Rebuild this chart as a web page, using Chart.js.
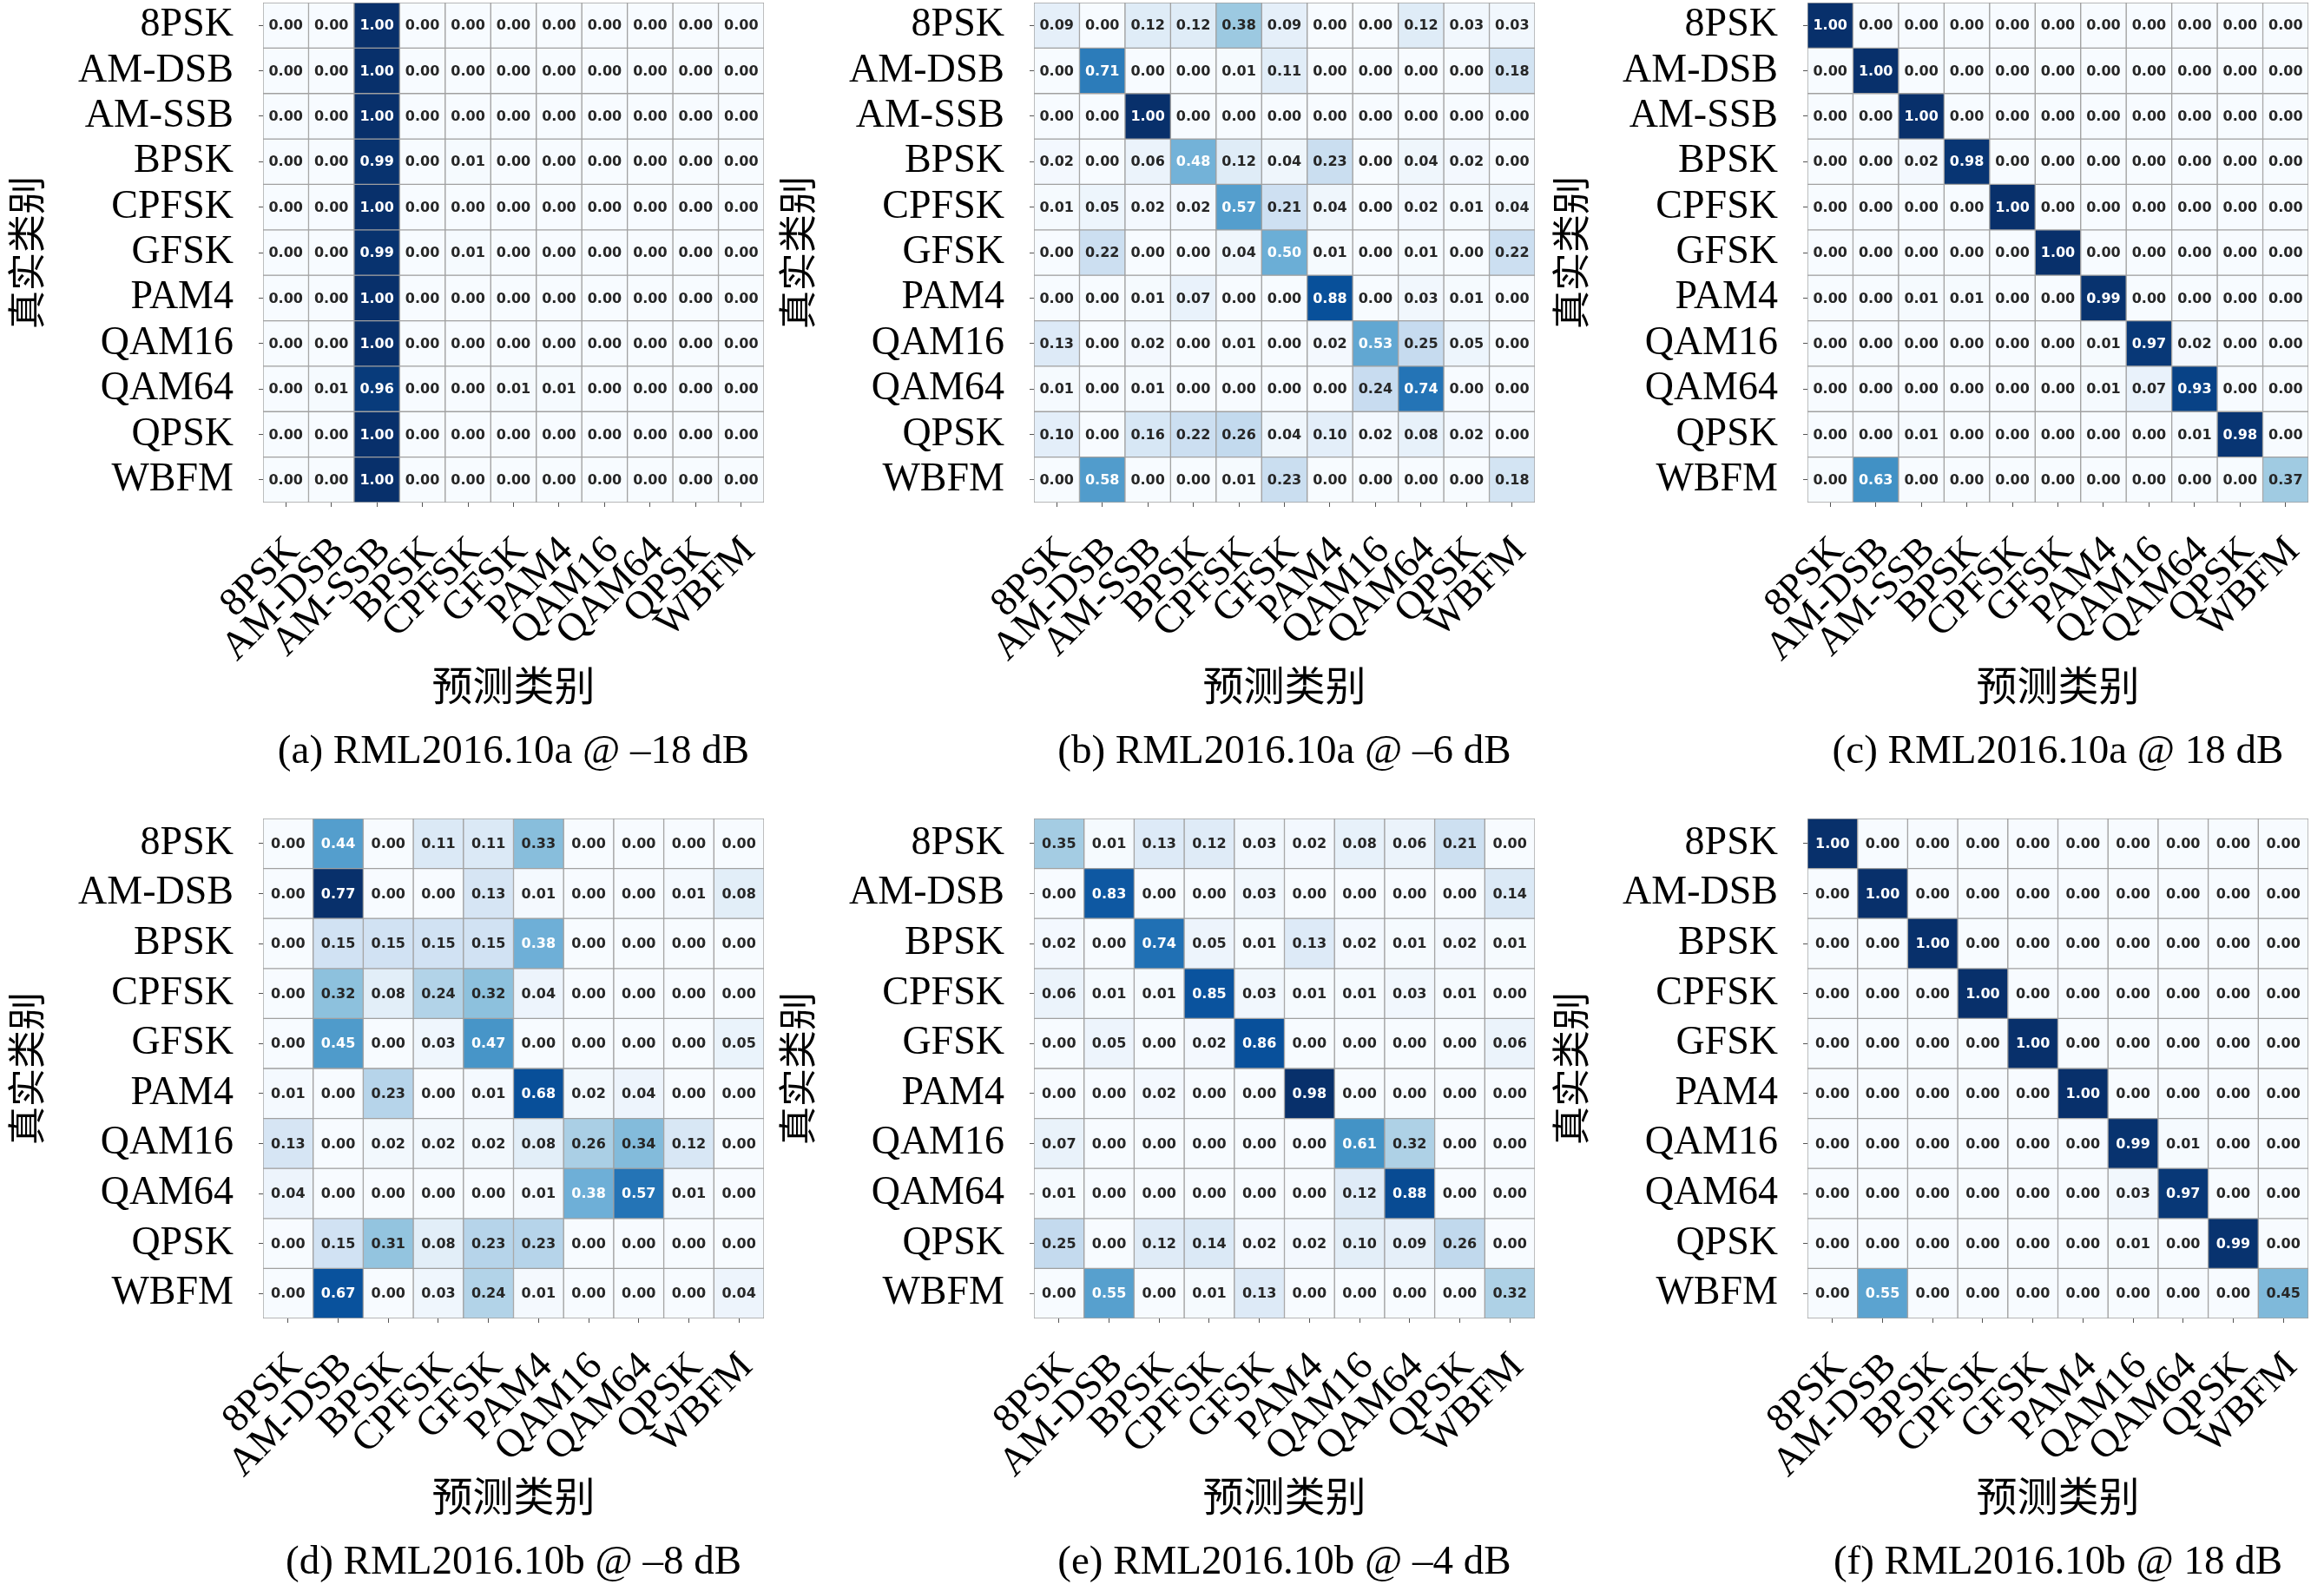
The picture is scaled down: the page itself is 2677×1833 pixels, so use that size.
<!DOCTYPE html>
<html>
<head>
<meta charset="utf-8">
<script src="https://cdn.jsdelivr.net/npm/chart.js@4.4.1/dist/chart.umd.min.js"></script>
<style>
  html, body { margin: 0; padding: 0; background: #fff; width: 2677px; height: 1833px; overflow: hidden; }
  canvas { position: absolute; }
</style>
</head>
<body>
<canvas id="cmA" width="885" height="913" style="left:0px;top:0px"></canvas>
<canvas id="cmB" width="885" height="913" style="left:888px;top:0px"></canvas>
<canvas id="cmC" width="885" height="913" style="left:1779px;top:0px"></canvas>
<canvas id="cmD" width="885" height="913" style="left:0px;top:940px"></canvas>
<canvas id="cmE" width="885" height="913" style="left:888px;top:940px"></canvas>
<canvas id="cmF" width="885" height="913" style="left:1779px;top:940px"></canvas>
<script>
// class lists
const classes10a = ["8PSK", "AM-DSB", "AM-SSB", "BPSK", "CPFSK", "GFSK", "PAM4", "QAM16", "QAM64", "QPSK", "WBFM"];
const classes10b = ["8PSK", "AM-DSB", "BPSK", "CPFSK", "GFSK", "PAM4", "QAM16", "QAM64", "QPSK", "WBFM"];

// (a) RML2016.10a @ -18 dB
const cmA = [
  [0.00, 0.00, 1.00, 0.00, 0.00, 0.00, 0.00, 0.00, 0.00, 0.00, 0.00],
  [0.00, 0.00, 1.00, 0.00, 0.00, 0.00, 0.00, 0.00, 0.00, 0.00, 0.00],
  [0.00, 0.00, 1.00, 0.00, 0.00, 0.00, 0.00, 0.00, 0.00, 0.00, 0.00],
  [0.00, 0.00, 0.99, 0.00, 0.01, 0.00, 0.00, 0.00, 0.00, 0.00, 0.00],
  [0.00, 0.00, 1.00, 0.00, 0.00, 0.00, 0.00, 0.00, 0.00, 0.00, 0.00],
  [0.00, 0.00, 0.99, 0.00, 0.01, 0.00, 0.00, 0.00, 0.00, 0.00, 0.00],
  [0.00, 0.00, 1.00, 0.00, 0.00, 0.00, 0.00, 0.00, 0.00, 0.00, 0.00],
  [0.00, 0.00, 1.00, 0.00, 0.00, 0.00, 0.00, 0.00, 0.00, 0.00, 0.00],
  [0.00, 0.01, 0.96, 0.00, 0.00, 0.01, 0.01, 0.00, 0.00, 0.00, 0.00],
  [0.00, 0.00, 1.00, 0.00, 0.00, 0.00, 0.00, 0.00, 0.00, 0.00, 0.00],
  [0.00, 0.00, 1.00, 0.00, 0.00, 0.00, 0.00, 0.00, 0.00, 0.00, 0.00]
];

// (b) RML2016.10a @ -6 dB
const cmB = [
  [0.09, 0.00, 0.12, 0.12, 0.38, 0.09, 0.00, 0.00, 0.12, 0.03, 0.03],
  [0.00, 0.71, 0.00, 0.00, 0.01, 0.11, 0.00, 0.00, 0.00, 0.00, 0.18],
  [0.00, 0.00, 1.00, 0.00, 0.00, 0.00, 0.00, 0.00, 0.00, 0.00, 0.00],
  [0.02, 0.00, 0.06, 0.48, 0.12, 0.04, 0.23, 0.00, 0.04, 0.02, 0.00],
  [0.01, 0.05, 0.02, 0.02, 0.57, 0.21, 0.04, 0.00, 0.02, 0.01, 0.04],
  [0.00, 0.22, 0.00, 0.00, 0.04, 0.50, 0.01, 0.00, 0.01, 0.00, 0.22],
  [0.00, 0.00, 0.01, 0.07, 0.00, 0.00, 0.88, 0.00, 0.03, 0.01, 0.00],
  [0.13, 0.00, 0.02, 0.00, 0.01, 0.00, 0.02, 0.53, 0.25, 0.05, 0.00],
  [0.01, 0.00, 0.01, 0.00, 0.00, 0.00, 0.00, 0.24, 0.74, 0.00, 0.00],
  [0.10, 0.00, 0.16, 0.22, 0.26, 0.04, 0.10, 0.02, 0.08, 0.02, 0.00],
  [0.00, 0.58, 0.00, 0.00, 0.01, 0.23, 0.00, 0.00, 0.00, 0.00, 0.18]
];

// (c) RML2016.10a @ 18 dB
const cmC = [
  [1.00, 0.00, 0.00, 0.00, 0.00, 0.00, 0.00, 0.00, 0.00, 0.00, 0.00],
  [0.00, 1.00, 0.00, 0.00, 0.00, 0.00, 0.00, 0.00, 0.00, 0.00, 0.00],
  [0.00, 0.00, 1.00, 0.00, 0.00, 0.00, 0.00, 0.00, 0.00, 0.00, 0.00],
  [0.00, 0.00, 0.02, 0.98, 0.00, 0.00, 0.00, 0.00, 0.00, 0.00, 0.00],
  [0.00, 0.00, 0.00, 0.00, 1.00, 0.00, 0.00, 0.00, 0.00, 0.00, 0.00],
  [0.00, 0.00, 0.00, 0.00, 0.00, 1.00, 0.00, 0.00, 0.00, 0.00, 0.00],
  [0.00, 0.00, 0.01, 0.01, 0.00, 0.00, 0.99, 0.00, 0.00, 0.00, 0.00],
  [0.00, 0.00, 0.00, 0.00, 0.00, 0.00, 0.01, 0.97, 0.02, 0.00, 0.00],
  [0.00, 0.00, 0.00, 0.00, 0.00, 0.00, 0.01, 0.07, 0.93, 0.00, 0.00],
  [0.00, 0.00, 0.01, 0.00, 0.00, 0.00, 0.00, 0.00, 0.01, 0.98, 0.00],
  [0.00, 0.63, 0.00, 0.00, 0.00, 0.00, 0.00, 0.00, 0.00, 0.00, 0.37]
];

// (d) RML2016.10b @ -8 dB
const cmD = [
  [0.00, 0.44, 0.00, 0.11, 0.11, 0.33, 0.00, 0.00, 0.00, 0.00],
  [0.00, 0.77, 0.00, 0.00, 0.13, 0.01, 0.00, 0.00, 0.01, 0.08],
  [0.00, 0.15, 0.15, 0.15, 0.15, 0.38, 0.00, 0.00, 0.00, 0.00],
  [0.00, 0.32, 0.08, 0.24, 0.32, 0.04, 0.00, 0.00, 0.00, 0.00],
  [0.00, 0.45, 0.00, 0.03, 0.47, 0.00, 0.00, 0.00, 0.00, 0.05],
  [0.01, 0.00, 0.23, 0.00, 0.01, 0.68, 0.02, 0.04, 0.00, 0.00],
  [0.13, 0.00, 0.02, 0.02, 0.02, 0.08, 0.26, 0.34, 0.12, 0.00],
  [0.04, 0.00, 0.00, 0.00, 0.00, 0.01, 0.38, 0.57, 0.01, 0.00],
  [0.00, 0.15, 0.31, 0.08, 0.23, 0.23, 0.00, 0.00, 0.00, 0.00],
  [0.00, 0.67, 0.00, 0.03, 0.24, 0.01, 0.00, 0.00, 0.00, 0.04]
];

// (e) RML2016.10b @ -4 dB
const cmE = [
  [0.35, 0.01, 0.13, 0.12, 0.03, 0.02, 0.08, 0.06, 0.21, 0.00],
  [0.00, 0.83, 0.00, 0.00, 0.03, 0.00, 0.00, 0.00, 0.00, 0.14],
  [0.02, 0.00, 0.74, 0.05, 0.01, 0.13, 0.02, 0.01, 0.02, 0.01],
  [0.06, 0.01, 0.01, 0.85, 0.03, 0.01, 0.01, 0.03, 0.01, 0.00],
  [0.00, 0.05, 0.00, 0.02, 0.86, 0.00, 0.00, 0.00, 0.00, 0.06],
  [0.00, 0.00, 0.02, 0.00, 0.00, 0.98, 0.00, 0.00, 0.00, 0.00],
  [0.07, 0.00, 0.00, 0.00, 0.00, 0.00, 0.61, 0.32, 0.00, 0.00],
  [0.01, 0.00, 0.00, 0.00, 0.00, 0.00, 0.12, 0.88, 0.00, 0.00],
  [0.25, 0.00, 0.12, 0.14, 0.02, 0.02, 0.10, 0.09, 0.26, 0.00],
  [0.00, 0.55, 0.00, 0.01, 0.13, 0.00, 0.00, 0.00, 0.00, 0.32]
];

// (f) RML2016.10b @ 18 dB
const cmF = [
  [1.00, 0.00, 0.00, 0.00, 0.00, 0.00, 0.00, 0.00, 0.00, 0.00],
  [0.00, 1.00, 0.00, 0.00, 0.00, 0.00, 0.00, 0.00, 0.00, 0.00],
  [0.00, 0.00, 1.00, 0.00, 0.00, 0.00, 0.00, 0.00, 0.00, 0.00],
  [0.00, 0.00, 0.00, 1.00, 0.00, 0.00, 0.00, 0.00, 0.00, 0.00],
  [0.00, 0.00, 0.00, 0.00, 1.00, 0.00, 0.00, 0.00, 0.00, 0.00],
  [0.00, 0.00, 0.00, 0.00, 0.00, 1.00, 0.00, 0.00, 0.00, 0.00],
  [0.00, 0.00, 0.00, 0.00, 0.00, 0.00, 0.99, 0.01, 0.00, 0.00],
  [0.00, 0.00, 0.00, 0.00, 0.00, 0.00, 0.03, 0.97, 0.00, 0.00],
  [0.00, 0.00, 0.00, 0.00, 0.00, 0.00, 0.01, 0.00, 0.99, 0.00],
  [0.00, 0.55, 0.00, 0.00, 0.00, 0.00, 0.00, 0.00, 0.00, 0.45]
];

const captions = [
  "(a) RML2016.10a @ \u201318 dB",
  "(b) RML2016.10a @ \u20136 dB",
  "(c) RML2016.10a @ 18 dB",
  "(d) RML2016.10b @ \u20138 dB",
  "(e) RML2016.10b @ \u20134 dB",
  "(f) RML2016.10b @ 18 dB"
];
const xTitle = "预测类别";
const yTitle = "真实类别";

// matplotlib "Blues"
const bluesStops = ["#f7fbff", "#deebf7", "#c6dbef", "#9ecae1", "#6baed6", "#4292c6", "#2171b5", "#08519c", "#08306b"];

function hexToRgb(h) {
  return [parseInt(h.slice(1, 3), 16), parseInt(h.slice(3, 5), 16), parseInt(h.slice(5, 7), 16)];
}

function blues(t) {
  t = Math.max(0, Math.min(1, t));
  const pos = t * (bluesStops.length - 1);
  const i = Math.min(Math.floor(pos), bluesStops.length - 2);
  const f = pos - i;
  const a = hexToRgb(bluesStops[i]), b = hexToRgb(bluesStops[i + 1]);
  return a.map((v, k) => Math.round(v + (b[k] - v) * f));
}

function luminance(rgb) {
  const c = rgb.map(v => {
    v = v / 255;
    return v <= 0.03928 ? v / 12.92 : Math.pow((v + 0.055) / 1.055, 2.4);
  });
  return 0.2126 * c[0] + 0.7152 * c[1] + 0.0722 * c[2];
}

const serif = "'Liberation Serif', 'Noto Sans CJK SC', serif";

// writes the value in each cell, on top of the bars
const cellLabels = {
  id: "cellLabels",
  afterDatasetsDraw(chart) {
    const ctx = chart.ctx;
    ctx.save();
    ctx.font = "bold 16px 'DejaVu Sans'";
    ctx.textAlign = "center";
    ctx.textBaseline = "middle";
    chart.data.datasets.forEach((ds, r) => {
      chart.getDatasetMeta(r).data.forEach((bar, c) => {
        const p = bar.getCenterPoint();
        ctx.fillStyle = ds.textColors[c];
        ctx.fillText(ds.values[c].toFixed(2), p.x, p.y + 1);
      });
    });
    ctx.restore();
  }
};

function noPadding(scale) {
  scale.paddingLeft = 0;
  scale.paddingRight = 0;
  scale.paddingTop = 0;
  scale.paddingBottom = 0;
}

function drawMatrix(id, classes, values, caption, captionPad) {
  const vmax = Math.max(...values.flat());
  const vmin = Math.min(...values.flat());
  const datasets = values.map((row, r) => {
    const rgbs = row.map(v => blues((v - vmin) / (vmax - vmin)));
    return {
      label: classes[r],
      data: row.map(() => 1),
      values: row,
      backgroundColor: rgbs.map(c => "rgb(" + c.join(",") + ")"),
      textColors: rgbs.map(c => luminance(c) > 0.408 ? "#262626" : "#ffffff"),
      borderColor: "#a0a0a0",
      borderWidth: 1,
      borderSkipped: false,
      barPercentage: 1,
      categoryPercentage: 1,
      yAxisID: "y"
    };
  });

  new Chart(document.getElementById(id), {
    type: "bar",
    data: { labels: classes, datasets: datasets },
    options: {
      responsive: false,
      animation: false,
      devicePixelRatio: 1,
      layout: { padding: { top: 3, right: 5, left: 0, bottom: 0 } },
      plugins: { legend: { display: false }, tooltip: { enabled: false } },
      scales: {
        x: {
          stacked: true,
          offset: true,
          border: { display: false },
          grid: { offset: false, drawOnChartArea: false, tickLength: 5, color: "#555" },
          ticks: {
            autoSkip: false, minRotation: 45, maxRotation: 45, padding: 24, labelOffset: 9,
            color: "#000", font: { family: serif, size: 46 }
          },
          title: {
            display: true,
            text: [xTitle, caption],
            color: "#000",
            font: { family: serif, size: 47, lineHeight: 72 / 47 },
            padding: { top: 0, bottom: captionPad }
          },
          afterFit(scale) { scale.height = 334; noPadding(scale); }
        },
        y: {
          display: false,
          stacked: true,
          reverse: true,
          min: 0,
          max: classes.length
        },
        yl: {
          type: "category",
          position: "left",
          labels: classes,
          offset: true,
          border: { display: false },
          grid: { offset: false, drawOnChartArea: false, tickLength: 5, color: "#555" },
          ticks: { autoSkip: false, padding: 29, color: "#000", font: { family: serif, size: 46 } },
          title: {
            display: true,
            text: yTitle,
            color: "#000",
            font: { family: serif, size: 44 },
            padding: { top: 9, bottom: 0 }
          },
          afterFit(scale) { scale.width = 303; noPadding(scale); }
        }
      }
    },
    plugins: [cellLabels]
  });
}

drawMatrix("cmA", classes10a, cmA, captions[0], 10);
drawMatrix("cmB", classes10a, cmB, captions[1], 10);
drawMatrix("cmC", classes10a, cmC, captions[2], 10);
drawMatrix("cmD", classes10b, cmD, captions[3], 16);
drawMatrix("cmE", classes10b, cmE, captions[4], 16);
drawMatrix("cmF", classes10b, cmF, captions[5], 16);
</script>
</body>
</html>
